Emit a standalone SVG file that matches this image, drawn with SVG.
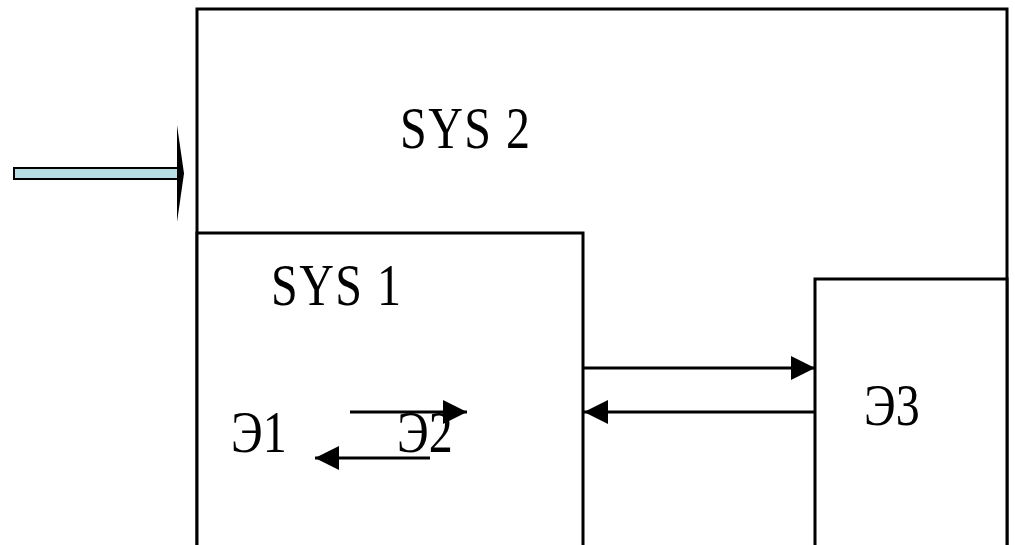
<svg xmlns="http://www.w3.org/2000/svg" width="1015" height="545" viewBox="0 0 1015 545">
<style>
.box{fill:#fff;stroke:#000;stroke-width:3}
.lbl{font-family:"Liberation Serif","Times New Roman",serif;font-size:48px;fill:#000}
.sys{letter-spacing:1.5px}
.con{stroke:#000;stroke-width:3;fill:none}
</style>
<defs>
<marker id="ah" markerUnits="userSpaceOnUse" markerWidth="26" markerHeight="26" refX="24" refY="12" orient="auto">
<path d="M0,0 L24,12 L0,24 Z" fill="#000"/>
</marker>
</defs>
<rect width="1015" height="545" fill="#fff"/>
<g id="sys2">
<rect class="box" x="197" y="9" width="810" height="570"/>
<text class="lbl sys" transform="translate(400,148) scale(1,1.25)">SYS 2</text>
</g>
<g id="sys1">
<rect class="box" x="197" y="233" width="386" height="340"/>
<text class="lbl sys" transform="translate(271,305) scale(1,1.25)">SYS 1</text>
</g>
<g id="e1">
<text class="lbl" transform="translate(231,452) scale(1,1.25)">Э1</text>
</g>
<g id="e2">
<text class="lbl" transform="translate(397,452) scale(1,1.25)">Э2</text>
</g>
<g id="e3">
<rect class="box" x="815" y="279" width="192" height="300"/>
<text class="lbl" transform="translate(864,425) scale(1,1.25)">Э3</text>
</g>
<g id="input">
<rect x="14" y="168" width="166" height="11" fill="#b7dfe3" stroke="#000" stroke-width="2"/>
<polygon points="177,125 184,173.5 177,222" fill="#000"/>
</g>
<g id="connectors">
<line class="con" x1="583" y1="368" x2="815" y2="368" marker-end="url(#ah)"/>
<line class="con" x1="815" y1="412" x2="584" y2="412" marker-end="url(#ah)"/>
<line class="con" x1="350" y1="412" x2="467" y2="412" marker-end="url(#ah)"/>
<line class="con" x1="430" y1="458" x2="315" y2="458" marker-end="url(#ah)"/>
</g>
</svg>
